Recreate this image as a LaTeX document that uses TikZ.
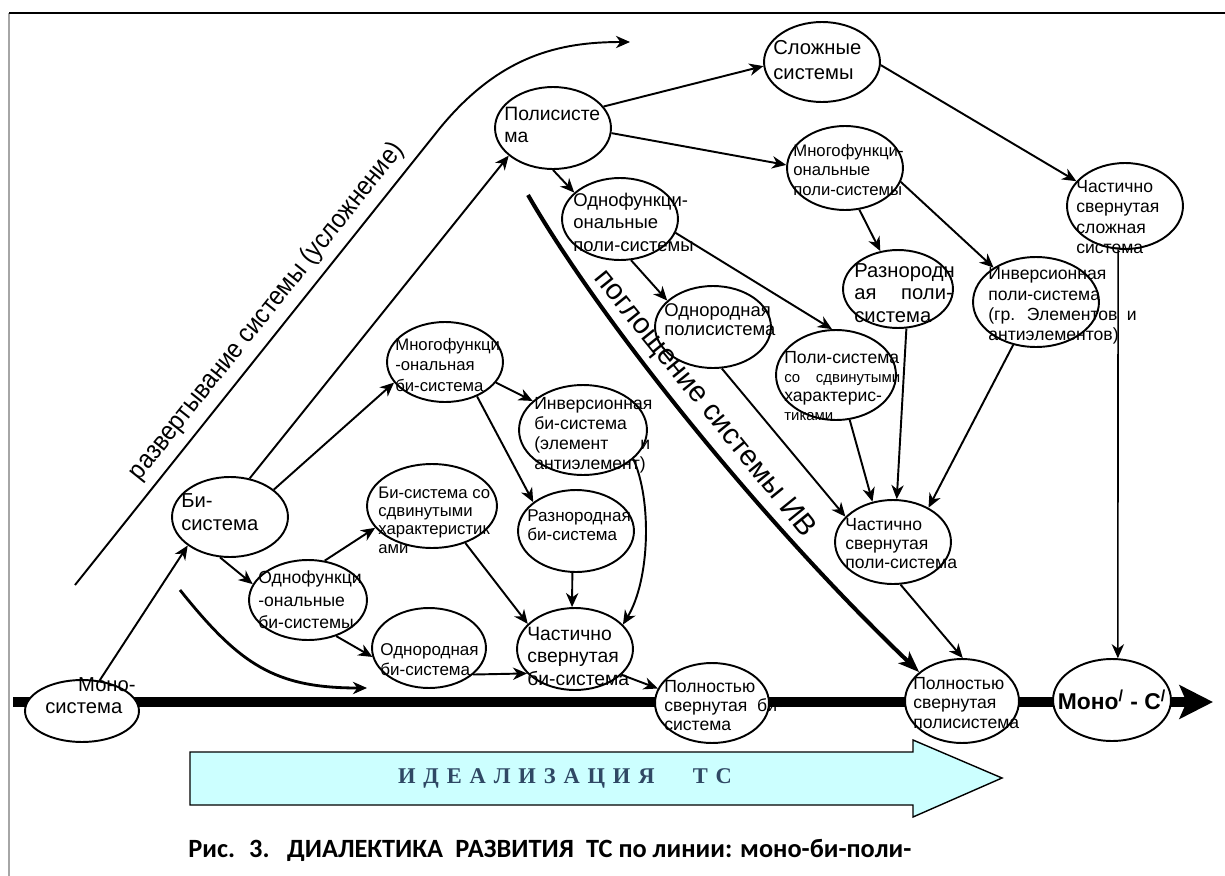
\documentclass[tikz,border=0pt]{standalone}
\usepackage{fontspec}
\setmainfont{Liberation Sans}
\newfontfamily\capfont{Carlito}
\newfontfamily\idealfont[LetterSpace=35]{Liberation Serif}
\usepackage{graphicx}
\usetikzlibrary{shapes.geometric,arrows.meta}
\newcommand\fz[2]{\fontsize{#1}{#2}\selectfont}
\definecolor{idealfill}{RGB}{204,255,255}
\definecolor{idealtext}{RGB}{47,72,100}

\begin{document}
\begin{tikzpicture}[x=0.02cm,y=-0.02cm,
  el/.style 2 args={ellipse,draw,fill=white,line width=1.1pt,inner sep=0pt,
    minimum width=#1*0.04cm,minimum height=#2*0.04cm},
  tx/.style={anchor=west,inner sep=0pt,align=left},
  arr/.style={line width=1.1pt,-{Stealth[length=8pt,width=7pt,inset=2.5pt]}}]
\useasboundingbox (0,0) rectangle (1225,876);
% frame
\draw[gray!70,line width=1pt] (9,876) -- (9,13);
\draw[line width=0.8pt] (9,13) -- (1225,13);
% main axis
\coordinate (ax0) at (13,702);
\coordinate (ax1) at (1213,702);
\draw[line width=5.7pt,-{Stealth[length=19pt,width=19pt,inset=4pt]}] (ax0) -- (ax1);
% idealization arrow
\draw[line width=0.8pt,fill=idealfill] (190,752) -- (913,752) -- (913,740) -- (1002,778)
  -- (913,817) -- (913,805) -- (190,805) -- cycle;
\node[font=\idealfont\bfseries\fz{12.8}{14},text=idealtext] (ideal) at (565,778)
  {ИДЕАЛИЗАЦИЯ\hspace{1.7em}ТС};

% ellipses
\node[el={57}{31}] (mono) at (82,711) {};
\node[el={58}{40}] (bi) at (230,517) {};
\node[el={58}{41}] (poly) at (553,128) {};
\node[el={58}{40}] (slozh) at (822,62) {};
\node[el={58}{42}] (mnpoly) at (845,168) {};
\node[el={58}{41}] (odpoly) at (620,219) {};
\node[el={58}{43}] (chslozh) at (1125,206) {};
\node[el={55}{39}] (raznpoly) at (898,289) {};
\node[el={63}{45}] (invpoly) at (1036,302) {};
\node[el={58}{41}] (odnorpoly) at (713,327) {};
\node[el={60}{45}] (sdvpoly) at (836,375) {};
\node[el={58}{42}] (chpoly) at (893,542) {};
\node[el={57}{42}] (polnpoly) at (962,701) {};
\node[el={59}{41}] (mono2) at (1112,700) {};
\node[el={57}{40}] (polnbi) at (712,703) {};
\node[el={58}{41}] (chbi) at (575,649) {};
\node[el={57}{40}] (odnorbi) at (429,648) {};
\node[el={59}{40}] (odfbi) at (308,600) {};
\node[el={65}{42}] (sdvbi) at (432,506) {};
\node[el={58}{40}] (mnbi) at (445,362) {};
\node[el={64}{45}] (invbi) at (583,430) {};
\node[el={58}{41}] (raznbi) at (576,531) {};

% texts
\node[tx,font=\fz{11.5}{12.5}] (mono-t) at (45,696) {\hspace*{18.7pt}Моно-\\система};
\node[tx,font=\fz{11.5}{13}] (bi-t) at (181,512) {Би-\\система};
\node[tx,font=\fz{11}{13}] (poly-t) at (504,125) {Полисисте\\ма};
\node[tx,font=\fz{11.5}{14}] (slozh-t) at (773,60) {Сложные\\системы};
\node[tx,font=\fz{9.5}{11.3}] (mnpoly-t) at (793,170) {Многофункци-\\ональные\\поли-системы};
\node[tx,font=\fz{10.5}{12.8}] (odpoly-t) at (573,222) {Однофункци-\\ональные\\поли-системы};
\node[tx,font=\fz{10}{11.5}] (chslozh-t) at (1076,217) {Частично\\свернутая\\сложная\\система};
\node[tx,font=\fz{11.5}{13},text width=56pt] (raznpoly-t) at (854,293) {Разнородн\\ая\hfill поли-\\система};
\node[tx,font=\fz{10}{11.5},text width=84.5pt] (invpoly-t) at (988,306)
  {Инверсионная\\поли-система\\(гр.~~Элементов\hfill и\\антиэлементов)};
\node[tx,font=\fz{10.5}{10.8}] (odnorpoly-t) at (664,320) {Однородная\\полисистема};
\node[tx,font=\fz{10}{10.8},text width=66pt] (sdvpoly-t) at (784,386)
  {Поли-система\\{\fz{8.5}{10.8}со\hfill сдвинутыми}\\характерис-\\{\fz{8.5}{10.8}тиками}};
\node[tx,font=\fz{10}{10.8}] (chpoly-t) at (845,544) {Частично\\свернутая\\поли-система};
\node[tx,font=\fz{10}{11.3}] (polnpoly-t) at (913,703) {Полностью\\свернутая\\полисистема};
\node[font=\bfseries\fz{13}{15}] (mono2-t) at (1112,700) {Моно\textsuperscript{/} - С\textsuperscript{/}};
\node[tx,font=\fz{10}{10.8},text width=67.5pt] (polnbi-t) at (664,706) {Полностью\\свернутая\hfill би-\\система};
\node[tx,font=\fz{11}{12.8}] (chbi-t) at (527,656) {Частично\\свернутая\\би-система};
\node[tx,font=\fz{9.7}{11.3}] (odnorbi-t) at (380,660) {Однородная\\би-система};
\node[tx,font=\fz{10}{12.8}] (odfbi-t) at (258,600) {Однофункци\\-ональные\\би-системы};
\node[tx,font=\fz{9.5}{10.4}] (sdvbi-t) at (378,520) {Би-система со\\сдвинутыми\\характеристик\\ами};
\node[tx,font=\fz{9.5}{11.6}] (mnbi-t) at (395,365) {Многофункци\\-ональная\\би-система};
\node[tx,font=\fz{10}{11.3},text width=66pt] (invbi-t) at (534,435)
  {Инверсионная\\би-система\\(элемент\hfill и\\антиэлемент)};
\node[tx,font=\fz{9.7}{10.8}] (raznbi-t) at (527,525) {Разнородная\\би-система};

% connectors
\draw[arr] (mono.60) -- (bi.214);
\draw[arr] (bi.63) -- (poly.212);
\draw[arr] (bi.32) -- (mnbi.202);
\draw[arr] (bi.256) -- (odfbi.164);
\draw[arr] (odfbi.67) -- (sdvbi.201);
\draw[arr] (odfbi.-52) -- (odnorbi.189);
\draw[arr] (odnorbi.-31) -- (chbi.207);
\draw[arr] (sdvbi.-48) -- (chbi.152);
\draw[arr] (mnbi.-22) -- (invbi.150);
\draw[arr] (mnbi.-47) -- (raznbi.146);
\draw[arr] (raznbi.-95) -- (chbi.94);
\draw[arr] (invbi.-30) .. controls (652,500) and (650,580) .. (chbi.27);
\draw[arr] (chbi.-29) -- (polnbi.165);
\draw[arr] (poly.23) -- (slozh.184);
\draw[arr] (poly.-5) -- (mnpoly.177);
\draw[arr] (poly.-90) -- (odpoly.150);
\draw[arr] (slozh.-3) -- (chslozh.153);
\draw[arr,line width=0.9pt] (chslozh.-99) -- (mono2.82);
\draw[arr] (mnpoly.-71) -- (raznpoly.115);
\draw[arr] (mnpoly.-14) -- (invpoly.141);
\draw[arr] (odpoly.-75) -- (odnorpoly.150);
\draw[arr] (odpoly.-14) -- (sdvpoly.95);
\draw[arr] (odnorpoly.-78) -- (chpoly.152);
\draw[arr] (sdvpoly.-73) -- (chpoly.117);
\draw[arr] (raznpoly.-78) -- (chpoly.85);
\draw[arr] (invpoly.-118) -- (chpoly.44);
\draw[arr] (chpoly.-80) -- (polnpoly.89);

% big curved arrows
\coordinate (r1) at (75,585);
\coordinate (rbend) at (440,128);
\coordinate (r2) at (630,42);
\draw[arr] (r1) -- node[pos=.57,above=1pt,sloped,font=\fz{15}{17}]
  {\scalebox{0.9}[1]{развертывание системы (усложнение)}} (rbend)
  .. controls (500,55) and (560,42) .. (r2);
\coordinate (p1) at (528,195);
\draw[line width=2.3pt,-{Stealth[length=12pt,width=9pt,inset=3pt]}] (p1)
  .. controls (600,320) and (760,520) .. node[pos=.49,above=1pt,sloped,font=\fz{16.5}{19}]
  {поглощение системы ИВ} (polnpoly.146);
\coordinate (b1) at (180,590);
\coordinate (b2) at (367,688);
\draw[arr,line width=1.6pt] (b1) .. controls (240,665) and (275,688) .. (b2);

% caption
\node[anchor=west,inner sep=0pt,font=\capfont\bfseries\fz{15}{17}] (cap) at (188,850)
  {Рис.\hspace{8pt}3.\hspace{10pt}ДИАЛЕКТИКА\hspace{7pt}РАЗВИТИЯ\hspace{7pt}ТС по линии: моно-би-поли-};
\end{tikzpicture}
\end{document}
